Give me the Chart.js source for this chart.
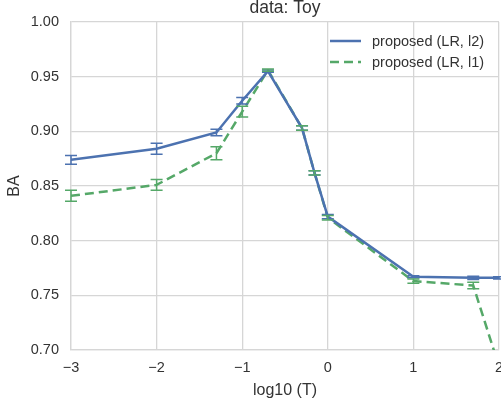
<!DOCTYPE html>
<html>
<head>
<meta charset="utf-8">
<script src="https://cdn.jsdelivr.net/npm/chart.js@4"></script>
<style>
  html, body { margin: 0; padding: 0; background: #fff; overflow: hidden; }
  #wrap { width: 515px; height: 407px; }
</style>
</head>
<body>
<div id="wrap"><canvas id="chart" width="515" height="407"></canvas></div>
<script>
// x positions are log10 of T
var logT = [-3, -2, -1.301, -1, -0.699, -0.301, -0.155, 0, 1, 1.699, 2];
var l2Values = [0.874, 0.884, 0.899, 0.928, 0.955, 0.903, 0.862, 0.822, 0.767, 0.766, 0.766];
var l2Errors = [0.004, 0.005, 0.003, 0.003, 0.001, 0.002, 0.002, 0.002, 0.001, 0.0015, 0.001];
var l1Values = [0.841, 0.851, 0.880, 0.918, 0.956, 0.903, 0.862, 0.821, 0.763, 0.759, 0.685];
var l1Errors = [0.005, 0.005, 0.006, 0.005, 0.001, 0.002, 0.002, 0.002, 0.002, 0.003, 0.003];
var xTicks = [-3, -2, -1, 0, 1, 2];
var yTicks = [0.70, 0.75, 0.80, 0.85, 0.90, 0.95, 1.00];
var seriesNames = ['proposed (LR, l2)', 'proposed (LR, l1)'];

var FONT = '"Liberation Sans", Arial, sans-serif';
var TEXT = '#333333';
var GRID = '#d6d6d6';
var BLUE = '#4c72b0';
var GREEN = '#55a868';

function toPoints(xs, ys) {
  return xs.map(function(x, i) { return { x: x, y: ys[i] }; });
}

// error bars drawn through the scales
var errorBars = {
  id: 'errorBars',
  afterDatasetsDraw: function(chart) {
    var ctx = chart.ctx;
    var xs = chart.scales.x, ys = chart.scales.y;
    var area = chart.chartArea;
    ctx.save();
    ctx.beginPath();
    ctx.rect(area.left - 8, area.top, area.right - area.left + 16, area.bottom - area.top);
    ctx.clip();
    chart.data.datasets.forEach(function(ds) {
      ctx.strokeStyle = ds.borderColor;
      ctx.lineWidth = 1.5;
      ctx.setLineDash([]);
      ds.data.forEach(function(p, i) {
        var e = ds.errors[i];
        var px = xs.getPixelForValue(p.x);
        var top = ys.getPixelForValue(p.y + e);
        var bot = ys.getPixelForValue(p.y - e);
        ctx.beginPath();
        ctx.moveTo(px, top); ctx.lineTo(px, bot);
        ctx.moveTo(px - 6, top); ctx.lineTo(px + 6, top);
        ctx.moveTo(px - 6, bot); ctx.lineTo(px + 6, bot);
        ctx.stroke();
      });
    });
    ctx.restore();
  }
};

// legend inside the plot, no frame
var innerLegend = {
  id: 'innerLegend',
  afterDraw: function(chart) {
    var ctx = chart.ctx;
    ctx.save();
    ctx.font = '14.5px ' + FONT;
    ctx.textBaseline = 'middle';
    chart.data.datasets.forEach(function(ds, i) {
      var y = 41 + i * 21;
      ctx.strokeStyle = ds.borderColor;
      ctx.lineWidth = 2.5;
      ctx.setLineDash(ds.borderDash || []);
      ctx.beginPath();
      ctx.moveTo(330, y); ctx.lineTo(361, y);
      ctx.stroke();
      ctx.fillStyle = TEXT;
      ctx.fillText(seriesNames[i], 372, y + 1);
    });
    ctx.restore();
  }
};

new Chart(document.getElementById('chart'), {
  type: 'line',
  data: {
    datasets: [{
      label: seriesNames[0],
      data: toPoints(logT, l2Values),
      errors: l2Errors,
      borderColor: BLUE,
      borderWidth: 2.5,
      pointRadius: 0,
      fill: false,
      tension: 0,
      clip: 0
    }, {
      label: seriesNames[1],
      data: toPoints(logT, l1Values),
      errors: l1Errors,
      borderColor: GREEN,
      borderWidth: 2.5,
      borderDash: [9, 5],
      pointRadius: 0,
      fill: false,
      tension: 0,
      clip: 0
    }]
  },
  options: {
    responsive: false,
    animation: false,
    events: [],
    layout: { padding: { left: 0, right: 16, top: 0, bottom: 0 } },
    plugins: {
      legend: { display: false },
      tooltip: { enabled: false },
      title: {
        display: true,
        text: 'data: Toy',
        fullSize: false,
        color: TEXT,
        font: { family: FONT, size: 17.5, weight: 'normal' },
        padding: { top: -2, bottom: 3 }
      }
    },
    scales: {
      x: {
        type: 'linear',
        min: -3,
        max: 2,
        afterBuildTicks: function(s) { s.ticks = xTicks.map(function(v) { return { value: v }; }); },
        afterFit: function(s) { s.height = 57; },
        grid: { color: GRID, lineWidth: 1.3, drawTicks: false },
        border: { color: GRID, width: 1.3 },
        ticks: {
          padding: 9,
          color: TEXT,
          font: { family: FONT, size: 14.5 },
          maxRotation: 0,
          callback: function(v) { return String(v).replace('-', '\u2212'); }
        },
        title: {
          display: true,
          text: 'log10 (T)',
          color: TEXT,
          font: { family: FONT, size: 16 },
          padding: { top: 0, bottom: 7 }
        }
      },
      y: {
        min: 0.70,
        max: 1.00,
        afterBuildTicks: function(s) { s.ticks = yTicks.map(function(v) { return { value: v }; }); },
        afterFit: function(s) { s.width = 71; },
        grid: { color: GRID, lineWidth: 1.3, drawTicks: false },
        border: { color: GRID, width: 1.3 },
        ticks: {
          padding: 12,
          color: TEXT,
          font: { family: FONT, size: 14.5 },
          callback: function(v) { return v.toFixed(2); }
        },
        title: {
          display: true,
          text: 'BA',
          color: TEXT,
          font: { family: FONT, size: 16 },
          padding: { top: 5, bottom: 0 }
        }
      }
    }
  },
  plugins: [errorBars, innerLegend]
});
</script>
</body>
</html>
